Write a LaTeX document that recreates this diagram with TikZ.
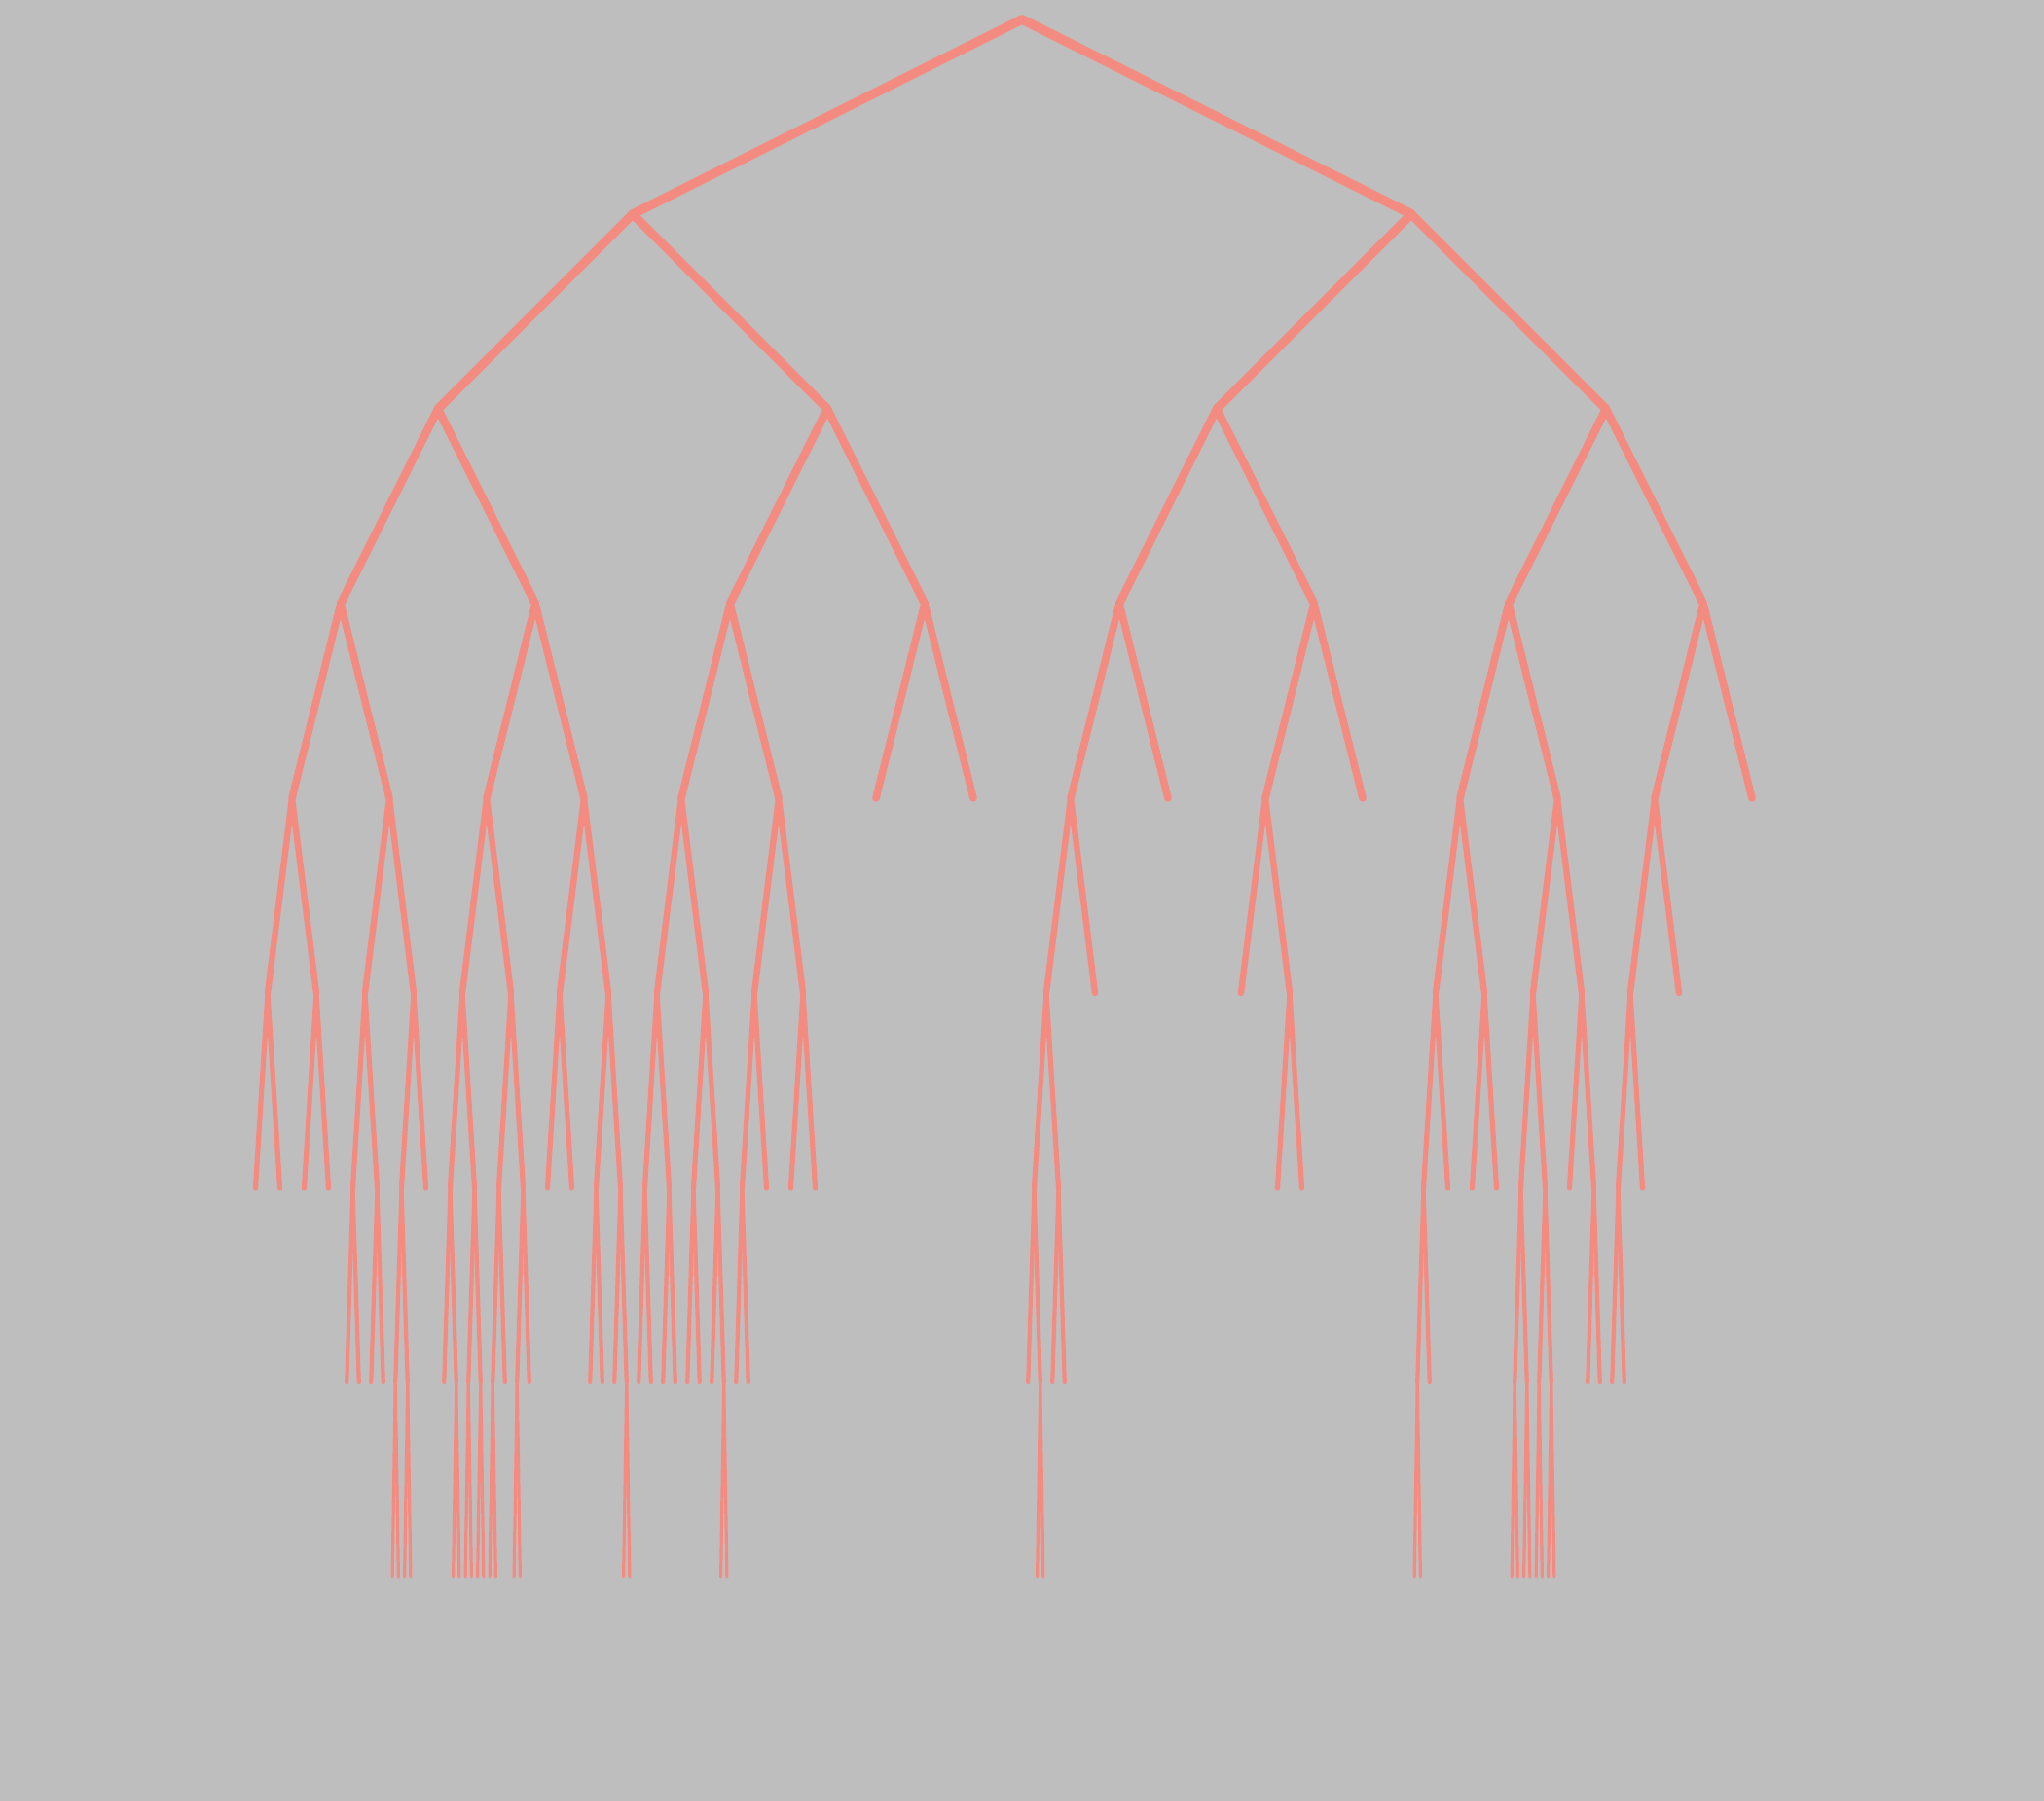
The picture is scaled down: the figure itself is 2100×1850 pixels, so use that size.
\documentclass[tikz,border=0pt]{standalone}
\definecolor{bgcol}{RGB}{190,190,190}
\definecolor{treecol}{RGB}{244,139,129}
\begin{document}
\begin{tikzpicture}[x=0.5pt,y=-0.5pt,line cap=round,
  level distance=100pt,
  edge from parent/.style={draw=treecol},
  level 1/.style={sibling distance=400pt,edge from parent/.style={draw=treecol,line width=4.8pt}},
  level 2/.style={sibling distance=200pt,edge from parent/.style={draw=treecol,line width=4.5pt}},
  level 3/.style={sibling distance=100pt,edge from parent/.style={draw=treecol,line width=4.2pt}},
  level 4/.style={sibling distance=50pt,edge from parent/.style={draw=treecol,line width=3.8pt}},
  level 5/.style={sibling distance=25pt,edge from parent/.style={draw=treecol,line width=3.2pt}},
  level 6/.style={sibling distance=12.5pt,edge from parent/.style={draw=treecol,line width=2.6pt}},
  level 7/.style={sibling distance=6.25pt,edge from parent/.style={draw=treecol,line width=2.1pt}},
  level 8/.style={sibling distance=3.125pt,edge from parent/.style={draw=treecol,line width=1.6pt}}]
\fill[bgcol] (0,0) rectangle (2100,1850);
\path (1050,20) node[coordinate] (n) {}
child { node[coordinate] {} % 650
  child { node[coordinate] {} % 450
    child { node[coordinate] {} % 350
      child { node[coordinate] {} % 300
        child { node[coordinate] {} child {node[coordinate]{}} child {node[coordinate]{}} }
        child { node[coordinate] {} child {node[coordinate]{}} child {node[coordinate]{}} }
      }
      child { node[coordinate] {} % 400
        child { node[coordinate] {} % 375
          child { node[coordinate] {} child {node[coordinate]{}} child {node[coordinate]{}} }
          child { node[coordinate] {} child {node[coordinate]{}} child {node[coordinate]{}} }
        }
        child { node[coordinate] {} % 425
          child { node[coordinate] {} % 412.5
            child { node[coordinate] {} child {node[coordinate]{}} child {node[coordinate]{}} }
            child { node[coordinate] {} child {node[coordinate]{}} child {node[coordinate]{}} }
          }
          child {node[coordinate]{}}
        }
      }
    }
    child { node[coordinate] {} % 550
      child { node[coordinate] {} % 500
        child { node[coordinate] {} % 475
          child { node[coordinate] {} % 462.5
            child {node[coordinate]{}}
            child { node[coordinate] {} child {node[coordinate]{}} child {node[coordinate]{}} }
          }
          child { node[coordinate] {} % 487.5
            child { node[coordinate] {} child {node[coordinate]{}} child {node[coordinate]{}} }
            child { node[coordinate] {} child {node[coordinate]{}} child {node[coordinate]{}} }
          }
        }
        child { node[coordinate] {} % 525
          child { node[coordinate] {} % 512.5
            child { node[coordinate] {} child {node[coordinate]{}} child {node[coordinate]{}} }
            child {node[coordinate]{}}
          }
          child { node[coordinate] {} % 537.5
            child { node[coordinate] {} child {node[coordinate]{}} child {node[coordinate]{}} }
            child {node[coordinate]{}}
          }
        }
      }
      child { node[coordinate] {} % 600
        child { node[coordinate] {} child {node[coordinate]{}} child {node[coordinate]{}} }
        child { node[coordinate] {} % 625
          child { node[coordinate] {} child {node[coordinate]{}} child {node[coordinate]{}} }
          child { node[coordinate] {} % 637.5
            child {node[coordinate]{}}
            child { node[coordinate] {} child {node[coordinate]{}} child {node[coordinate]{}} }
          }
        }
      }
    }
  }
  child { node[coordinate] {} % 850
    child { node[coordinate] {} % 750
      child { node[coordinate] {} % 700
        child { node[coordinate] {} % 675
          child { node[coordinate] {} child {node[coordinate]{}} child {node[coordinate]{}} }
          child { node[coordinate] {} child {node[coordinate]{}} child {node[coordinate]{}} }
        }
        child { node[coordinate] {} % 725
          child { node[coordinate] {} child {node[coordinate]{}} child {node[coordinate]{}} }
          child { node[coordinate] {} % 737.5
            child {node[coordinate]{}}
            child { node[coordinate] {} child {node[coordinate]{}} child {node[coordinate]{}} }
          }
        }
      }
      child { node[coordinate] {} % 800
        child { node[coordinate] {} % 775
          child { node[coordinate] {} child {node[coordinate]{}} child {node[coordinate]{}} }
          child {node[coordinate]{}}
        }
        child { node[coordinate] {} child {node[coordinate]{}} child {node[coordinate]{}} }
      }
    }
    child { node[coordinate] {} child {node[coordinate]{}} child {node[coordinate]{}} } % 950
  }
}
child { node[coordinate] {} % 1450
  child { node[coordinate] {} % 1250
    child { node[coordinate] {} % 1150
      child { node[coordinate] {} % 1100
        child { node[coordinate] {} % 1075
          child { node[coordinate] {} % 1062.5
            child {node[coordinate]{}}
            child { node[coordinate] {} child {node[coordinate]{}} child {node[coordinate]{}} }
          }
          child { node[coordinate] {} child {node[coordinate]{}} child {node[coordinate]{}} }
        }
        child {node[coordinate]{}}
      }
      child {node[coordinate]{}}
    }
    child { node[coordinate] {} % 1350
      child { node[coordinate] {} % 1300
        child {node[coordinate]{}}
        child { node[coordinate] {} child {node[coordinate]{}} child {node[coordinate]{}} }
      }
      child {node[coordinate]{}}
    }
  }
  child { node[coordinate] {} % 1650
    child { node[coordinate] {} % 1550
      child { node[coordinate] {} % 1500
        child { node[coordinate] {} % 1475
          child { node[coordinate] {} % 1462.5
            child { node[coordinate] {} child {node[coordinate]{}} child {node[coordinate]{}} }
            child {node[coordinate]{}}
          }
          child {node[coordinate]{}}
        }
        child { node[coordinate] {} child {node[coordinate]{}} child {node[coordinate]{}} }
      }
      child { node[coordinate] {} % 1600
        child { node[coordinate] {} % 1575
          child { node[coordinate] {} % 1562.5
            child { node[coordinate] {} child {node[coordinate]{}} child {node[coordinate]{}} }
            child { node[coordinate] {} child {node[coordinate]{}} child {node[coordinate]{}} }
          }
          child { node[coordinate] {} % 1587.5
            child { node[coordinate] {} child {node[coordinate]{}} child {node[coordinate]{}} }
            child { node[coordinate] {} child {node[coordinate]{}} child {node[coordinate]{}} }
          }
        }
        child { node[coordinate] {} % 1625
          child {node[coordinate]{}}
          child { node[coordinate] {} child {node[coordinate]{}} child {node[coordinate]{}} }
        }
      }
    }
    child { node[coordinate] {} % 1750
      child { node[coordinate] {} % 1700
        child { node[coordinate] {} % 1675
          child { node[coordinate] {} child {node[coordinate]{}} child {node[coordinate]{}} }
          child {node[coordinate]{}}
        }
        child {node[coordinate]{}}
      }
      child {node[coordinate]{}}
    }
  }
};
\end{tikzpicture}
\end{document}
